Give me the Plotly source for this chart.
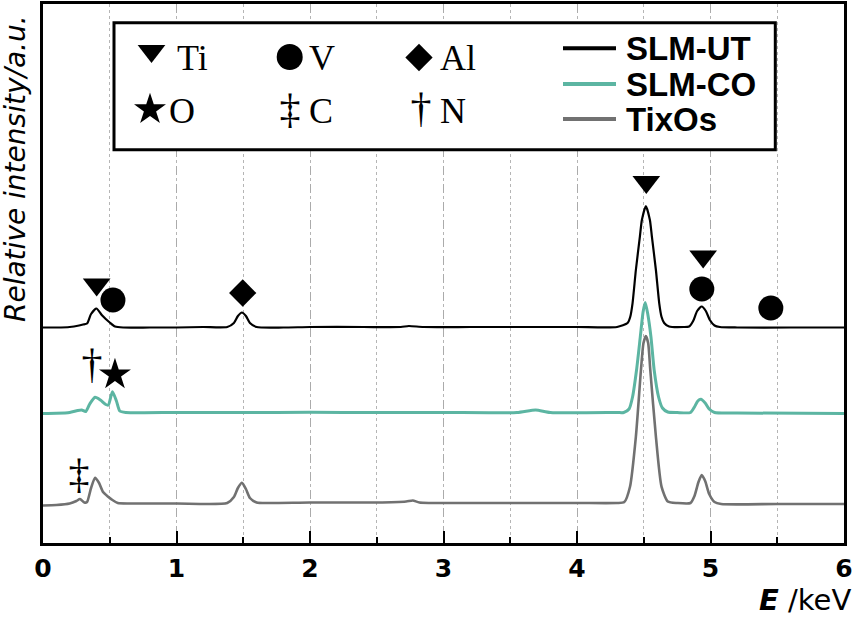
import plotly.graph_objects as go

# ---------------- data ----------------
# SLM-UT (black)
energy_ut = [0.00, 0.10, 0.20, 0.27, 0.30, 0.33, 0.36, 0.40, 0.44, 0.47, 0.50, 0.54, 0.60, 0.80,
             1.00, 1.20, 1.38, 1.43, 1.46, 1.49, 1.52, 1.55, 1.60, 1.80, 2.00, 2.40, 2.68, 2.74,
             2.85, 3.20, 3.60, 4.00, 4.30, 4.379, 4.399, 4.416, 4.441, 4.471, 4.486, 4.516,
             4.546, 4.561, 4.591, 4.616, 4.633, 4.653, 4.69, 4.80, 4.84, 4.87, 4.90, 4.934,
             4.965, 4.995, 5.03, 5.07, 5.20, 5.60, 6.00]
intensity_ut = [215.5, 215.5, 216, 217.5, 218.5, 219.5, 229, 234.5, 228, 224, 220.5, 216.5, 215.5, 215.5,
                215.5, 216, 216, 220, 227, 230.5, 227, 220, 216, 215.5, 216, 216, 216, 217,
                216, 216, 216, 216, 216, 220, 226.3, 239.7, 273, 306.3, 323, 337,
                323, 306.3, 273, 239.7, 226.3, 220, 216.5, 216, 216.5, 222, 232, 236.5,
                232, 223, 217.5, 216, 215.5, 215.5, 215.5]

# SLM-CO (teal)
energy_co = [0.00, 0.10, 0.20, 0.26, 0.29, 0.32, 0.35, 0.39, 0.43, 0.47, 0.49, 0.52, 0.55, 0.575,
             0.62, 1.00, 1.50, 2.00, 2.50, 3.00, 3.55, 3.69, 3.80, 4.30, 4.35, 4.39, 4.416, 4.446,
             4.474, 4.495, 4.511, 4.53, 4.554, 4.578, 4.611, 4.64, 4.68, 4.75, 4.85, 4.88, 4.905,
             4.928, 4.96, 4.99, 5.03, 5.20, 6.00]
intensity_co = [129.5, 129.7, 130.5, 132.5, 133, 131.5, 139, 145.7, 143, 138.5, 138, 151.3, 142, 132,
                130.5, 130.5, 130.5, 130.7, 130.5, 130.5, 130.5, 133, 130.5, 130.5, 130.5, 134, 146, 173,
                206, 231, 240.5, 229, 206, 173, 146, 135, 131, 130.5, 130.5, 136, 142,
                143.7, 140, 134, 130.5, 130, 129.5]

# TixOs (grey)
energy_tx = [0.00, 0.10, 0.20, 0.25, 0.277, 0.31, 0.33, 0.36, 0.39, 0.42, 0.45, 0.488, 0.52, 0.56,
             0.65, 1.00, 1.38, 1.43, 1.46, 1.49, 1.52, 1.55, 1.60, 1.70, 2.00, 2.50, 2.72, 2.77,
             2.82, 3.20, 4.00, 4.30, 4.354, 4.397, 4.441, 4.479, 4.498, 4.516, 4.533, 4.549,
             4.591, 4.633, 4.68, 4.75, 4.85, 4.88, 4.91, 4.934, 4.96, 4.99, 5.03, 5.08, 5.50, 6.00]
intensity_tx = [37.5, 38, 39.5, 42, 44, 40.5, 41, 55, 65.3, 60, 51, 46.3, 43, 40,
                39.5, 39.5, 40, 46, 55, 60.3, 54, 45, 40.5, 40, 40.5, 40.5, 41.5, 42.5,
                40.5, 40, 40, 40, 41, 56.3, 106.3, 173, 200, 207, 200, 173,
                106.3, 56.3, 41.5, 40, 40, 47, 61, 68, 62, 49, 41, 39, 39, 39]

# peak labels on the spectra
peak_energy = [0.402, 4.519, 4.945, 0.524, 4.935, 5.452, 1.496, 0.539]
peak_height = [258.5, 361, 286.5, 243, 254, 235, 250, 168.4]
peak_symbol = ["triangle-down", "triangle-down", "triangle-down", "circle", "circle", "circle",
               "diamond", "star"]
peak_size = [24, 24, 24, 25, 25, 25, 21, 24]

dagger_energy = [0.367, 0.269]
dagger_height = [176, 66]
dagger_text = ["†", "‡"]

series_names = ["SLM-UT", "SLM-CO", "TixOs"]
series_colors = ["#000000", "#5cb5a2", "#717171"]

tick_vals = [0, 1, 2, 3, 4, 5, 6]
tick_text = ["0", "1", "2", "3", "4", "5", "6"]

key_symbols = ["triangle-down", "circle", "diamond", "star"]
key_labels = ["Ti", "V", "Al", "O", "C", "N"]

# ---------------- layout helpers: pixel position -> axis / paper position ----------------
W, H = 855, 621
PL, PR, PT, PB = 43, 844, 4, 543
X_MAX, Y_MAX = 6.0, 539.0


def kx(px):
    return (px - PL) / (PR - PL) * X_MAX


def ky(py):
    return (PB - py) / (PB - PT) * Y_MAX


def paper_x(px):
    return (px - PL) / (PR - PL)


def paper_y(py):
    return (PB - py) / (PB - PT)


# ---------------- figure ----------------
fig = go.Figure()

spline = dict(shape="spline", smoothing=0.6)
fig.add_trace(go.Scatter(x=energy_co, y=intensity_co, mode="lines", name=series_names[1],
                         line=dict(color=series_colors[1], width=3, **spline), showlegend=False))
fig.add_trace(go.Scatter(x=energy_tx, y=intensity_tx, mode="lines", name=series_names[2],
                         line=dict(color=series_colors[2], width=2.6, **spline), showlegend=False))
fig.add_trace(go.Scatter(x=energy_ut, y=intensity_ut, mode="lines", name=series_names[0],
                         line=dict(color=series_colors[0], width=2.2, **spline), showlegend=False))

fig.add_trace(go.Scatter(x=peak_energy, y=peak_height, mode="markers", showlegend=False,
                         marker=dict(symbol=peak_symbol, size=peak_size, color="black",
                                     opacity=1, line=dict(width=0)), hoverinfo="skip"))
fig.add_trace(go.Scatter(x=dagger_energy, y=dagger_height, mode="text", text=dagger_text,
                         textposition="middle center", showlegend=False,
                         textfont=dict(family="Liberation Serif", size=42, color="black"),
                         hoverinfo="skip"))

# ---------------- key box ----------------
key_px = [(151.5, 51), (289.7, 57), (419, 57.5), (150, 109.5)]
fig.add_trace(go.Scatter(x=[kx(p[0]) for p in key_px], y=[ky(p[1]) for p in key_px],
                         mode="markers", showlegend=False, hoverinfo="skip",
                         marker=dict(symbol=key_symbols, size=[24, 26, 21, 24], color="black",
                                     opacity=1, line=dict(width=0))))
fig.add_trace(go.Scatter(x=[kx(290), kx(421)], y=[ky(112), ky(111)], mode="text",
                         text=["‡", "†"], showlegend=False, hoverinfo="skip",
                         textposition="middle center",
                         textfont=dict(family="Liberation Serif", size=42, color="black")))

shapes = [dict(type="rect", xref="x", yref="y", x0=kx(114), x1=kx(775.3), y0=ky(22.7), y1=ky(149.7),
               line=dict(color="black", width=3), fillcolor="white", layer="between")]
line_rows = [48.3, 84, 119]
for c, yy in zip(series_colors, line_rows):
    shapes.append(dict(type="line", xref="x", yref="y", x0=kx(563), x1=kx(616), y0=ky(yy), y1=ky(yy),
                       line=dict(color=c, width=4), layer="above"))

annotations = []
key_pos = [(175, 58), (306.7, 58), (438, 58), (166.7, 111.4), (306.7, 111.4), (438, 111.4)]
for lab, (xx, yy) in zip(key_labels, key_pos):
    annotations.append(dict(xref="x", yref="y", x=kx(xx), y=ky(yy), text=lab, showarrow=False,
                            xanchor="left", yanchor="middle",
                            font=dict(family="Liberation Serif", size=36, color="black")))
for name, yy in zip(series_names, line_rows):
    annotations.append(dict(xref="x", yref="y", x=kx(624), y=ky(yy), text="<b>%s</b>" % name,
                            showarrow=False, xanchor="left", yanchor="middle",
                            font=dict(family="Liberation Sans", size=33, color="black")))

annotations.append(dict(xref="paper", yref="paper", x=paper_x(15), y=paper_y(169),
                        text="<i>Relative intensity/a.u.</i>",
                        textangle=-90, showarrow=False, xanchor="center", yanchor="middle",
                        font=dict(family="DejaVu Sans", size=28, color="black")))
annotations.append(dict(xref="paper", yref="paper", x=paper_x(853), y=paper_y(599.5),
                        text="<b><i>E</i></b> /keV",
                        showarrow=False, xanchor="right", yanchor="middle",
                        font=dict(family="DejaVu Sans", size=29, color="black")))

fig.update_layout(
    width=W, height=H, autosize=False,
    margin=dict(l=PL, r=W - PR, t=PT, b=H - PB, pad=0, autoexpand=False),
    paper_bgcolor="white", plot_bgcolor="white",
    shapes=shapes, annotations=annotations,
    xaxis=dict(range=[0, X_MAX], tickvals=tick_vals, ticktext=tick_text,
               ticks="inside", ticklen=12, tickwidth=2, tickcolor="black",
               ticklabelstandoff=1,
               showline=True, linecolor="black", linewidth=3, mirror=True,
               showgrid=True, gridcolor="#ababab", gridwidth=1, griddash="dash",
               zeroline=False,
               tickfont=dict(family="DejaVu Sans", size=25, color="black", weight="bold"),
               minor=dict(dtick=0.5, tick0=0, ticks="inside", ticklen=6, tickwidth=2,
                          tickcolor="black", showgrid=True, gridcolor="#b5b5b5",
                          griddash="dot", gridwidth=1)),
    yaxis=dict(range=[0, Y_MAX], showticklabels=False, ticks="", showgrid=False,
               showline=True, linecolor="black", linewidth=3, mirror=True, zeroline=False),
)

fig.write_html("out.html", config={"displayModeBar": False},
               post_script="document.body.style.margin='0px';")
